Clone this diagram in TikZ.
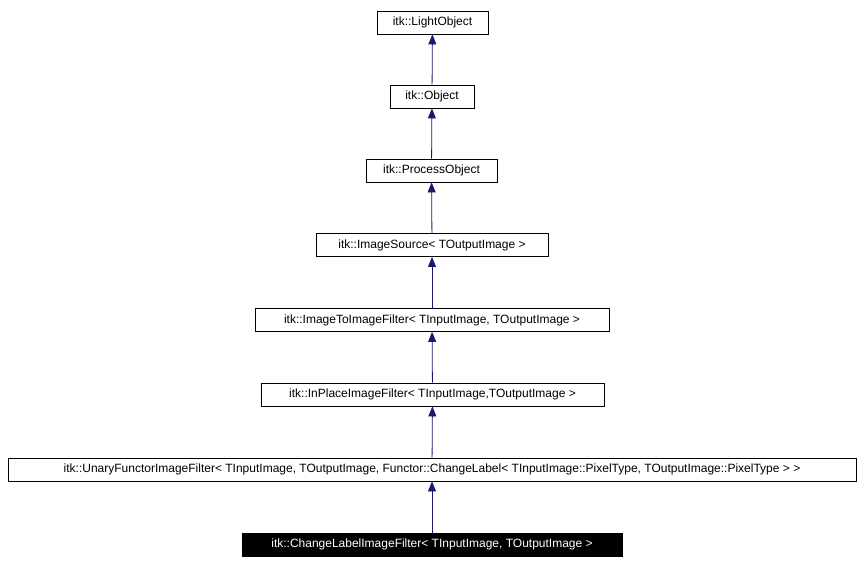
\documentclass[tikz,border=0pt]{standalone}
\usepackage{fontspec}
\setmainfont{Liberation Sans}
\usetikzlibrary{arrows.meta}
\begin{document}
\begin{tikzpicture}[x=1pt,y=-1pt,
  box/.style={draw=black,fill=white,line width=0.8pt,minimum height=23pt,inner sep=0pt,font=\fontsize{12}{14}\selectfont},
  cur/.style={box,fill=black,text=white},
  inh/.style={draw=midnightblue,line width=0.8pt,-{Triangle[length=10pt,width=8pt,fill=midnightblue]}}]
\definecolor{midnightblue}{HTML}{191970}
\useasboundingbox (0,0) rectangle (863,564);
\node[box,minimum width=111pt] (a) at (432.5,22.5) {itk::LightObject};
\node[box,minimum width=84pt] (b) at (432,96.5) {itk::Object};
\node[box,minimum width=131pt] (c) at (431.5,170.5) {itk::ProcessObject};
\node[box,minimum width=232pt] (d) at (432,245) {itk::ImageSource< TOutputImage >};
\node[box,minimum width=354pt] (e) at (432,320) {itk::ImageToImageFilter< TInputImage, TOutputImage >};
\node[box,minimum width=343pt] (f) at (432.5,394.5) {itk::InPlaceImageFilter< TInputImage,TOutputImage >};
\node[box,minimum width=848pt] (g) at (432,469.5) {itk::UnaryFunctorImageFilter< TInputImage, TOutputImage, Functor::ChangeLabel< TInputImage::PixelType, TOutputImage::PixelType > >};
\node[cur,minimum width=380pt] (h) at (432,544.5) {itk::ChangeLabelImageFilter< TInputImage, TOutputImage >};
\draw[inh] (b) -- (a);
\draw[inh] (c) -- (b);
\draw[inh] (d) -- (c);
\draw[inh] (e) -- (d);
\draw[inh] (f) -- (e);
\draw[inh] (g) -- (f);
\draw[inh] (h) -- (g);
\end{tikzpicture}
\end{document}
